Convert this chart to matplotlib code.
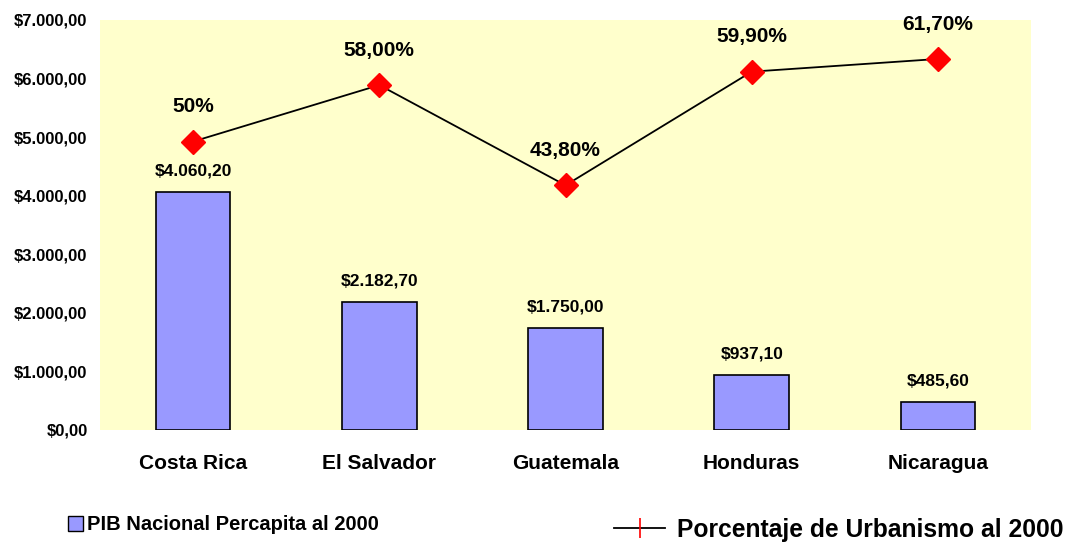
import matplotlib
matplotlib.use("Agg")
import matplotlib.pyplot as plt
from matplotlib.patches import Patch
from matplotlib.lines import Line2D
from matplotlib.ticker import FuncFormatter

categories = ["Costa Rica", "El Salvador", "Guatemala", "Honduras", "Nicaragua"]
pib = [4060.20, 2182.70, 1750.00, 937.10, 485.60]
urban = [50.0, 58.0, 43.8, 59.9, 61.7]
urban_labels = ["50%", "58,00%", "43,80%", "59,90%", "61,70%"]
bar_name = "PIB Nacional Percapita al 2000"
line_name = "Porcentaje de Urbanismo al 2000"

plt.rcParams['font.family'] = ['Liberation Sans', 'DejaVu Sans']
plt.rcParams['font.weight'] = 'bold'


def money(v, pos=None):
    s = f"{v:,.2f}"
    s = s.replace(",", "X").replace(".", ",").replace("X", ".")
    return "$" + s


fig = plt.figure(figsize=(10.65, 5.42), dpi=100)
ax = fig.add_axes([100 / 1065, 112 / 542, 931 / 1065, 410 / 542])
ax.set_facecolor("#FFFFCC")
x = list(range(len(categories)))
ax.bar(x, pib, width=0.4, color="#9999FF", edgecolor="black", linewidth=1.2, zorder=2)
ax.set_xlim(-0.5, len(categories) - 0.5)
ax.set_ylim(0, 7000)
ax.set_yticks(range(0, 7001, 1000))
ax.yaxis.set_major_formatter(FuncFormatter(money))
ax.set_xticks(x)
ax.set_xticklabels(categories, fontsize=15, fontweight='bold')
for lab in ax.get_yticklabels():
    lab.set_fontsize(12)
    lab.set_fontweight('bold')
ax.tick_params(axis='y', length=0, pad=9)
ax.tick_params(axis='x', length=0, pad=17)
for s in ax.spines.values():
    s.set_visible(False)
for xi, v in zip(x, pib):
    ax.annotate(money(v), (xi, v), xytext=(0, 15), textcoords='offset points',
                ha='center', va='center', fontsize=12.5, fontweight='bold')

ax2 = ax.twinx()
ax2.set_ylim(9.13, 67.22)
ax2.plot(x, urban, color="black", linewidth=1.3, marker='D', markersize=12,
         markerfacecolor='red', markeredgecolor='red', zorder=3)
ax2.set_yticks([])
for s in ax2.spines.values():
    s.set_visible(False)
for xi, v, t in zip(x, urban, urban_labels):
    ax2.annotate(t, (xi, v), xytext=(0, 25), textcoords='offset points',
                 ha='center', va='center', fontsize=15, fontweight='bold')

h1 = Patch(facecolor="#9999FF", edgecolor="black", linewidth=1)
fig.legend([h1], [bar_name], loc='center left', bbox_to_anchor=(50 / 1065, 1 - 525 / 542),
           frameon=False, prop={'size': 14.5, 'weight': 'bold'}, handlelength=0.75,
           handleheight=0.75, handletextpad=0.2)
h2 = Line2D([0], [0], color='black', linewidth=1.3, marker='|', markersize=14,
            markeredgecolor='red', markeredgewidth=1.2)
fig.legend([h2], [line_name], loc='center left', bbox_to_anchor=(592 / 1065, 1 - 530 / 542),
           frameon=False, prop={'size': 17.7, 'weight': 'bold'}, handlelength=2.07,
           handletextpad=0.5)

fig.savefig("out.png", dpi=100)
